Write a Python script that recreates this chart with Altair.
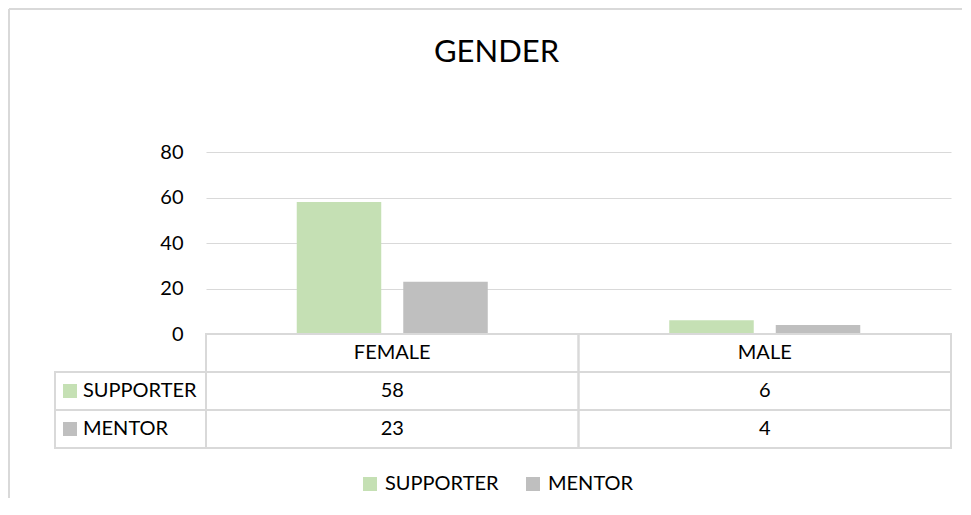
import altair as alt
import pandas as pd

categories = ["FEMALE", "MALE"]
series = ["SUPPORTER", "MENTOR"]
supporter = [58, 6]
mentor = [23, 4]
y_ticks = [0, 20, 40, 60, 80]
colors = ["#C5E0B4", "#BFBFBF"]
row_order = ["HEADER", "SUPPORTER", "MENTOR"]

FONT = "Lato"
GRID = "#d9d9d9"

bars_df = pd.DataFrame(
    [{"gender": g, "series": "SUPPORTER", "value": v} for g, v in zip(categories, supporter)]
    + [{"gender": g, "series": "MENTOR", "value": v} for g, v in zip(categories, mentor)]
)

table_rows = []
for i, g in enumerate(categories):
    table_rows.append({"gender": g, "row": "HEADER", "label": g})
    table_rows.append({"gender": g, "row": "SUPPORTER", "label": str(supporter[i])})
    table_rows.append({"gender": g, "row": "MENTOR", "label": str(mentor[i])})
table_df = pd.DataFrame(table_rows)
left_df = pd.DataFrame({"row": series, "series": series})
one = pd.DataFrame({"k": [0]})

color_enc = alt.Color(
    "series:N",
    sort=series,
    scale=alt.Scale(domain=series, range=colors),
    legend=alt.Legend(
        title=None,
        orient="none",
        direction="horizontal",
        legendX=154,
        legendY=322,
        symbolType="square",
        symbolSize=196,
        symbolStrokeWidth=0,
        symbolOpacity=1,
        labelFontSize=20,
        labelFont=FONT,
        labelColor="black",
        labelOffset=5,
        columnPadding=24,
        padding=0,
    ),
)

x_enc = alt.X(
    "gender:N",
    sort=categories,
    axis=None,
    scale=alt.Scale(domain=categories, paddingInner=0, paddingOuter=0),
)

bars = alt.Chart(bars_df).mark_bar().encode(
    x=x_enc,
    xOffset=alt.XOffset(
        "series:N", sort=series,
        scale=alt.Scale(domain=series, paddingInner=0.2066, paddingOuter=0.852),
    ),
    y=alt.Y(
        "value:Q",
        scale=alt.Scale(domain=[0, 80]),
        axis=alt.Axis(
            values=y_ticks, title=None, domain=False, ticks=False,
            labelPadding=23, labelFontSize=20, labelFont=FONT, labelColor="black",
            gridColor=GRID, gridWidth=1,
        ),
    ),
    color=color_enc,
)

border_top = alt.Chart(one).mark_rule(color=GRID, strokeWidth=2).encode(
    x=alt.value(-197), x2=alt.value(756), y=alt.value(-143)
)
border_left = alt.Chart(one).mark_rule(color=GRID, strokeWidth=2).encode(
    x=alt.value(-197), y=alt.value(-143), y2=alt.value(346)
)

top = alt.layer(border_top, border_left, bars).properties(width=745, height=182)

y_row = alt.Y(
    "row:N", sort=row_order, axis=None,
    scale=alt.Scale(domain=row_order, paddingInner=0, paddingOuter=0),
)

cells = alt.Chart(table_df).mark_rect(
    fillOpacity=0, stroke=GRID, strokeWidth=2
).encode(x=x_enc, y=y_row)

cell_text = alt.Chart(table_df).mark_text(
    fontSize=20, font=FONT, color="black"
).encode(x=x_enc, y=y_row, text="label:N")

left_cells = alt.Chart(left_df).mark_rect(
    fillOpacity=0, stroke=GRID, strokeWidth=2
).encode(x=alt.value(-151), x2=alt.value(0), y=y_row)

left_sq = alt.Chart(left_df).mark_square(size=196, opacity=1, strokeWidth=0).encode(
    x=alt.value(-136), y=y_row, color=color_enc
)

left_text = alt.Chart(left_df).mark_text(
    fontSize=20, font=FONT, color="black", align="left"
).encode(x=alt.value(-123), y=y_row, text="row:N")

table = alt.layer(cells, cell_text, left_cells, left_sq, left_text).properties(
    width=745, height=114
)

chart = alt.vconcat(
    top, table, spacing=0, bounds="flush",
    title=alt.TitleParams(
        "GENDER", fontSize=31, font=FONT, fontWeight="normal", color="black",
        anchor="middle", frame="group", offset=0, baseline="alphabetic", dy=85, dx=-82,
    ),
).properties(padding=0).configure_view(stroke=None)

chart.save("out.html", embed_options={"renderer": "svg", "actions": False})
